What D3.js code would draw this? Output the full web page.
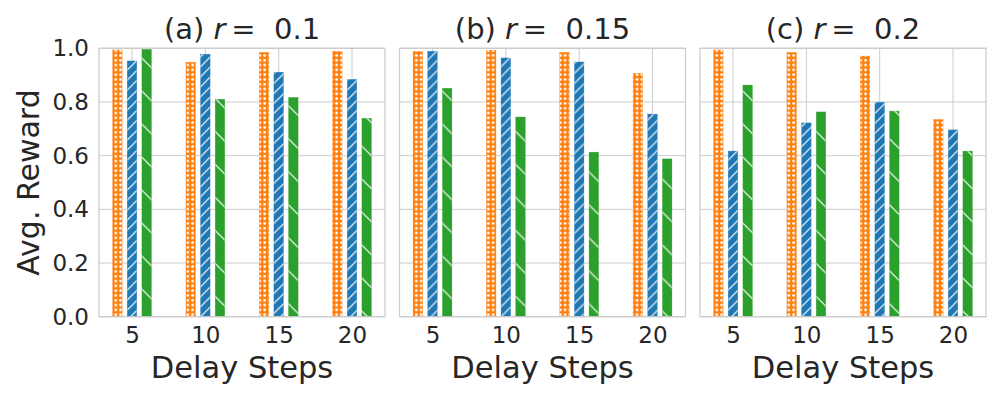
<!DOCTYPE html>
<html>
<head>
<meta charset="utf-8">
<script src="https://cdn.jsdelivr.net/npm/d3@7"></script>
<style>
  body { margin: 0; background: #fff; }
  text { font-family: "DejaVu Sans", sans-serif; fill: #262626; }
</style>
</head>
<body>
<div id="chart"></div>
<script>
// data
var delays = [5, 10, 15, 20];
var panelLetters = ["a", "b", "c"];
var rValues = ["0.1", "0.15", "0.2"];
var yTicks = [0, 0.2, 0.4, 0.6, 0.8, 1.0];

var orangeR01 = [0.994, 0.948, 0.985, 0.989];
var blueR01   = [0.953, 0.978, 0.911, 0.884];
var greenR01  = [0.996, 0.810, 0.817, 0.739];

var orangeR015 = [0.989, 0.993, 0.985, 0.907];
var blueR015   = [0.989, 0.964, 0.949, 0.755];
var greenR015  = [0.851, 0.744, 0.613, 0.588];

var orangeR02 = [0.994, 0.985, 0.971, 0.735];
var blueR02   = [0.617, 0.722, 0.799, 0.696];
var greenR02  = [0.863, 0.763, 0.766, 0.617];

var panelSeries = [
  [orangeR01, blueR01, greenR01],
  [orangeR015, blueR015, greenR015],
  [orangeR02, blueR02, greenR02]
];
var seriesColors = ["#ff7f0e", "#1f77b4", "#2ca02c"];
var seriesOffsets = [-1, 0, 1];
var barWidth = 0.65;

// layout
var panelLeft = [99, 399.5, 700],
    panelW = 286,
    panelTop = 48.3,
    panelH = 268.4;

var svg = d3.select("#chart").append("svg")
    .attr("width", 1000)
    .attr("height", 400);

svg.append("rect").attr("width", 1000).attr("height", 400).attr("fill", "#fff");

// hatch patterns
var defs = svg.append("defs");

var pDots = defs.append("pattern")
    .attr("id", "hatch0")
    .attr("patternUnits", "userSpaceOnUse")
    .attr("width", 4.8).attr("height", 4.8);
pDots.append("rect").attr("width", 4.8).attr("height", 4.8).attr("fill", seriesColors[0]);
pDots.append("circle").attr("cx", 2.4).attr("cy", 2.4).attr("r", 1.35).attr("fill", "#fff");

var s1 = 10;
var pSlash = defs.append("pattern")
    .attr("id", "hatch1")
    .attr("patternUnits", "userSpaceOnUse")
    .attr("width", s1).attr("height", s1);
pSlash.append("rect").attr("width", s1).attr("height", s1).attr("fill", seriesColors[1]);
pSlash.append("path")
    .attr("d", "M0," + s1 + "L" + s1 + ",0M-2,2L2,-2M" + (s1 - 2) + "," + (s1 + 2) + "L" + (s1 + 2) + "," + (s1 - 2))
    .attr("stroke", "#fff").attr("stroke-width", 1.2);

var s2 = 33;
var pBack = defs.append("pattern")
    .attr("id", "hatch2")
    .attr("patternUnits", "userSpaceOnUse")
    .attr("width", s2).attr("height", s2);
pBack.append("rect").attr("width", s2).attr("height", s2).attr("fill", seriesColors[2]);
pBack.append("path")
    .attr("d", "M0,0L" + s2 + "," + s2 + "M-2," + (s2 - 2) + "L2," + (s2 + 2) + "M" + (s2 - 2) + ",-2L" + (s2 + 2) + ",2")
    .attr("stroke", "#fff").attr("stroke-width", 1.2);

var x = d3.scaleLinear().domain([2.75, 22.25]).range([0, panelW]);
var y = d3.scaleLinear().domain([0, 1]).range([panelH, 0]);

panelSeries.forEach(function(series, p) {
  var g = svg.append("g")
      .attr("transform", "translate(" + panelLeft[p] + "," + panelTop + ")");

  // grid
  g.selectAll(".hgrid").data(yTicks).enter().append("line")
      .attr("x1", 0).attr("x2", panelW)
      .attr("y1", function(d) { return y(d); })
      .attr("y2", function(d) { return y(d); })
      .attr("stroke", "#cccccc").attr("stroke-width", 1);
  g.selectAll(".vgrid").data(delays).enter().append("line")
      .attr("x1", function(d) { return x(d); })
      .attr("x2", function(d) { return x(d); })
      .attr("y1", 0).attr("y2", panelH)
      .attr("stroke", "#cccccc").attr("stroke-width", 1);

  // bars
  series.forEach(function(vals, s) {
    g.selectAll(".bar" + s).data(vals).enter().append("rect")
        .attr("x", function(d, i) { return x(delays[i] + seriesOffsets[s] - barWidth / 2); })
        .attr("width", x(barWidth) - x(0))
        .attr("y", function(d) { return y(d); })
        .attr("height", function(d) { return panelH - y(d); })
        .attr("fill", "url(#hatch" + s + ")")
        .attr("stroke", seriesColors[s]).attr("stroke-opacity", 0.6).attr("stroke-width", 0.5);
  });

  // frame
  g.append("rect")
      .attr("width", panelW).attr("height", panelH)
      .attr("fill", "none").attr("stroke", "#cccccc").attr("stroke-width", 1.25);

  // x ticks
  var xAxis = g.append("g")
      .attr("transform", "translate(0," + panelH + ")")
      .call(d3.axisBottom(x).tickValues(delays).tickSize(0).tickPadding(10));
  xAxis.select(".domain").remove();
  xAxis.selectAll("text").style("font-size", "23px").attr("fill", "#262626")
      .style("font-family", "DejaVu Sans");

  // y ticks on first panel only
  if (p === 0) {
    var yAxis = g.append("g")
        .call(d3.axisLeft(y).tickValues(yTicks).tickFormat(d3.format(".1f")).tickSize(0).tickPadding(10));
    yAxis.select(".domain").remove();
    yAxis.selectAll("text").style("font-size", "23px").attr("fill", "#262626")
        .style("font-family", "DejaVu Sans");
  }

  // x label
  g.append("text")
      .attr("x", panelW / 2).attr("y", 378 - panelTop)
      .attr("text-anchor", "middle")
      .style("font-size", "30.5px")
      .text("Delay Steps");

  // title
  var t = g.append("text")
      .attr("x", panelW / 2).attr("y", 39 - panelTop)
      .attr("text-anchor", "middle")
      .style("font-size", "29px");
  t.append("tspan").text("(" + panelLetters[p] + ") ");
  t.append("tspan").style("font-style", "italic").text("r");
  t.append("tspan").text("\u2009= \u00a0" + rValues[p]);
});

// y label
svg.append("text")
    .attr("transform", "translate(39," + (panelTop + panelH / 2) + ") rotate(-90)")
    .attr("text-anchor", "middle")
    .style("font-size", "30px")
    .text("Avg. Reward");
</script>
</body>
</html>
